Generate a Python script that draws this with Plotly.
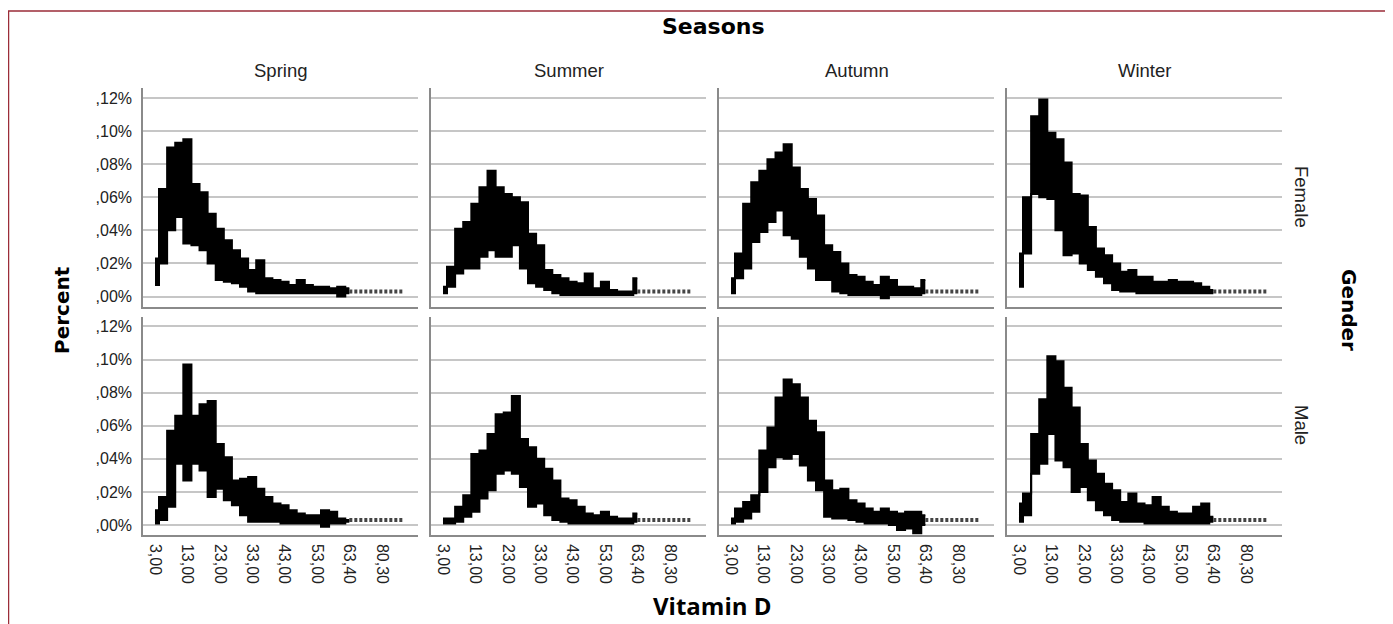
"""Vitamin D distribution by season and gender, drawn as SPSS-style panels."""

import plotly.graph_objects as go
from plotly.subplots import make_subplots

seasons = ["Spring", "Summer", "Autumn", "Winter"]
genders = ["Female", "Male"]

# x axis is categorical in the source: labelled categories sit at equal steps
tick_labels = ["3,00", "13,00", "23,00", "33,00", "43,00", "53,00", "63,40", "80,30"]
tick_pos = [0, 1, 2, 3, 4, 5, 6, 7]
y_ticks = [0.0, 0.02, 0.04, 0.06, 0.08, 0.10, 0.12]
y_tick_labels = [",00%", ",02%", ",04%", ",06%", ",08%", ",10%", ",12%"]

# category position of each band sample (in tick steps)
band_pos = [0.0, 0.25, 0.5, 0.75, 1.0, 1.25, 1.5, 1.75, 2.0, 2.25, 2.5, 2.75, 3.0,
            3.25, 3.5, 3.75, 4.0, 4.25, 4.5, 4.75, 5.0, 5.25, 5.5, 5.75, 6.0]
tail_pos = [6.0, 7.65]
tail_level = 0.003

# upper / lower envelope of the dense line, percent
spring_female_hi = [0.023, 0.065, 0.090, 0.093, 0.095, 0.068, 0.063, 0.050, 0.041, 0.034, 0.028, 0.023, 0.016,
                    0.022, 0.011, 0.010, 0.009, 0.007, 0.010, 0.007, 0.006, 0.006, 0.005, 0.006, 0.005]
spring_female_lo = [0.007, 0.020, 0.040, 0.048, 0.032, 0.031, 0.028, 0.020, 0.010, 0.009, 0.008, 0.006, 0.003,
                    0.002, 0.002, 0.002, 0.002, 0.002, 0.002, 0.002, 0.002, 0.002, 0.002, 0.000, 0.002]
summer_female_hi = [0.006, 0.018, 0.041, 0.045, 0.056, 0.066, 0.076, 0.066, 0.062, 0.060, 0.057, 0.038, 0.031,
                    0.016, 0.013, 0.011, 0.009, 0.008, 0.014, 0.005, 0.009, 0.004, 0.003, 0.003, 0.011]
summer_female_lo = [0.002, 0.006, 0.014, 0.017, 0.017, 0.024, 0.028, 0.024, 0.024, 0.031, 0.017, 0.008, 0.006,
                    0.004, 0.002, 0.001, 0.001, 0.001, 0.001, 0.001, 0.001, 0.001, 0.001, 0.001, 0.002]
autumn_female_hi = [0.011, 0.026, 0.056, 0.069, 0.076, 0.083, 0.087, 0.092, 0.078, 0.065, 0.059, 0.049, 0.031,
                    0.027, 0.020, 0.013, 0.012, 0.009, 0.007, 0.012, 0.010, 0.006, 0.006, 0.005, 0.010]
autumn_female_lo = [0.002, 0.011, 0.017, 0.033, 0.039, 0.045, 0.052, 0.037, 0.035, 0.024, 0.017, 0.010, 0.010,
                    0.003, 0.002, 0.001, 0.001, 0.001, 0.001, -0.001, 0.001, 0.001, 0.001, 0.001, 0.002]
winter_female_hi = [0.026, 0.060, 0.109, 0.119, 0.099, 0.095, 0.081, 0.062, 0.061, 0.042, 0.029, 0.025, 0.020,
                    0.015, 0.016, 0.012, 0.012, 0.009, 0.009, 0.010, 0.009, 0.009, 0.008, 0.006, 0.004]
winter_female_lo = [0.006, 0.026, 0.062, 0.060, 0.059, 0.040, 0.025, 0.026, 0.020, 0.016, 0.012, 0.008, 0.004,
                    0.003, 0.003, 0.002, 0.002, 0.002, 0.002, 0.002, 0.002, 0.002, 0.002, 0.002, 0.002]

spring_male_hi = [0.009, 0.017, 0.057, 0.066, 0.097, 0.066, 0.073, 0.075, 0.049, 0.041, 0.027, 0.028, 0.029,
                  0.022, 0.017, 0.013, 0.012, 0.009, 0.007, 0.006, 0.006, 0.009, 0.008, 0.004, 0.003]
spring_male_lo = [0.001, 0.003, 0.011, 0.037, 0.027, 0.037, 0.033, 0.017, 0.022, 0.015, 0.012, 0.006, 0.002,
                  0.002, 0.002, 0.002, 0.001, 0.001, 0.001, 0.001, 0.001, -0.001, 0.001, 0.001, 0.002]
summer_male_hi = [0.004, 0.004, 0.011, 0.018, 0.043, 0.045, 0.055, 0.067, 0.068, 0.078, 0.052, 0.047, 0.040,
                  0.034, 0.027, 0.016, 0.015, 0.011, 0.007, 0.006, 0.008, 0.005, 0.004, 0.004, 0.007]
summer_male_lo = [0.001, 0.001, 0.002, 0.005, 0.008, 0.016, 0.021, 0.031, 0.033, 0.031, 0.023, 0.011, 0.013,
                  0.006, 0.003, 0.002, 0.001, 0.001, 0.001, 0.001, 0.001, 0.001, 0.001, 0.001, 0.002]
autumn_male_hi = [0.004, 0.010, 0.014, 0.018, 0.045, 0.059, 0.077, 0.088, 0.085, 0.077, 0.063, 0.056, 0.027,
                  0.021, 0.022, 0.015, 0.013, 0.010, 0.008, 0.010, 0.008, 0.007, 0.008, 0.008, 0.006]
autumn_male_lo = [0.001, 0.002, 0.004, 0.008, 0.020, 0.035, 0.041, 0.040, 0.043, 0.036, 0.027, 0.021, 0.005,
                  0.004, 0.004, 0.003, 0.002, 0.001, 0.001, 0.001, 0.000, -0.003, -0.002, -0.005, 0.000]
winter_male_hi = [0.013, 0.019, 0.055, 0.076, 0.102, 0.099, 0.083, 0.071, 0.049, 0.039, 0.031, 0.025, 0.021,
                  0.014, 0.019, 0.013, 0.012, 0.017, 0.011, 0.008, 0.007, 0.007, 0.011, 0.013, 0.005]
winter_male_lo = [0.002, 0.006, 0.031, 0.037, 0.055, 0.039, 0.035, 0.020, 0.023, 0.015, 0.009, 0.006, 0.003,
                  0.002, 0.002, 0.002, 0.001, 0.001, 0.001, 0.001, 0.001, 0.001, 0.001, 0.001, 0.002]

bands = {
    ("Female", "Spring"): (spring_female_lo, spring_female_hi),
    ("Female", "Summer"): (summer_female_lo, summer_female_hi),
    ("Female", "Autumn"): (autumn_female_lo, autumn_female_hi),
    ("Female", "Winter"): (winter_female_lo, winter_female_hi),
    ("Male", "Spring"): (spring_male_lo, spring_male_hi),
    ("Male", "Summer"): (summer_male_lo, summer_male_hi),
    ("Male", "Autumn"): (autumn_male_lo, autumn_male_hi),
    ("Male", "Winter"): (winter_male_lo, winter_male_hi),
}

# page body adds an 8px margin, so figure pixels = screen pixels - 8
OFF = 8
W, H = 1393 - OFF, 624 - OFF
L, R, T, B = 143 - OFF, 1282 - OFF, 88 - OFF, 535 - OFF
AXIS = "#8a8a8a"
GRID = "#c6c6c6"
ARIAL = "Liberation Sans, Arial, sans-serif"
WIDE = "DejaVu Sans, Verdana, sans-serif"


def px(x):
    return (x - OFF - L) / (R - L)


def py(y):
    return (B - (y - OFF)) / (B - T)


fig = make_subplots(
    rows=2, cols=4,
    horizontal_spacing=13 / (R - L),
    vertical_spacing=10 / (B - T),
)

for r, gender in enumerate(genders, start=1):
    for c, season in enumerate(seasons, start=1):
        lo, hi = bands[(gender, season)]
        fig.add_trace(
            go.Scatter(x=band_pos, y=lo, mode="lines", line=dict(color="black", width=2, shape="hvh"),
                       showlegend=False, hoverinfo="skip"),
            row=r, col=c,
        )
        fig.add_trace(
            go.Scatter(x=band_pos, y=hi, mode="lines", line=dict(color="black", width=2, shape="hvh"),
                       fill="tonexty", fillcolor="black", showlegend=False),
            row=r, col=c,
        )
        # sparse tail of high values
        fig.add_trace(
            go.Scatter(x=tail_pos, y=[tail_level, tail_level], mode="lines",
                       line=dict(color="#444444", width=4, dash="3px,2px"), showlegend=False),
            row=r, col=c,
        )

        fig.update_xaxes(
            range=[-0.37, 8.12], showgrid=False, zeroline=False,
            showline=True, linecolor=AXIS, linewidth=1.5,
            tickmode="array", tickvals=tick_pos, ticktext=tick_labels,
            tickangle=90, ticks="", ticklabelstandoff=4,
            tickfont=dict(family=ARIAL, size=16, color="#222222"),
            showticklabels=(r == 2),
            row=r, col=c,
        )
        fig.update_yaxes(
            range=[-0.006, 0.126], zeroline=False,
            showgrid=True, gridcolor=GRID, gridwidth=1.5,
            showline=True, linecolor=AXIS, linewidth=1.5,
            tickmode="array", tickvals=y_ticks, ticktext=y_tick_labels,
            ticks="", ticklabelstandoff=6,
            tickfont=dict(family=ARIAL, size=16, color="#222222"),
            showticklabels=(c == 1),
            row=r, col=c,
        )

annotations = [
    dict(text="<b>Seasons</b>", x=px(713), y=py(27), font=dict(family=WIDE, size=22, color="black")),
    dict(text="<b>Vitamin D</b>", x=px(712), y=py(605), font=dict(family="Open Sans, sans-serif", size=24, color="black")),
    dict(text="<b>Percent</b>", x=px(62), y=py(310), textangle=-90, font=dict(family=WIDE, size=20, color="black")),
    dict(text="<b>Gender</b>", x=px(1349), y=py(310), textangle=90, font=dict(family=WIDE, size=20, color="black")),
    dict(text="Female", x=px(1302), y=py(197), textangle=90, font=dict(family=ARIAL, size=18.5, color="#222222")),
    dict(text="Male", x=px(1302), y=py(425), textangle=90, font=dict(family=ARIAL, size=18.5, color="#222222")),
]
for i, season in enumerate(seasons):
    centre = 143 + i * (275 + 13) + 137.5
    annotations.append(dict(text=season, x=px(centre), y=py(70),
                            font=dict(family=ARIAL, size=18.5, color="#222222")))
for a in annotations:
    a.update(xref="paper", yref="paper", showarrow=False, xanchor="center", yanchor="middle")

fig.update_layout(
    width=W, height=H,
    margin=dict(l=L, r=W - R, t=T, b=H - B),
    paper_bgcolor="white", plot_bgcolor="white",
    annotations=annotations,
    shapes=[dict(type="rect", xref="paper", yref="paper",
                 x0=px(8.5), x1=px(1390), y0=py(660), y1=py(11),
                 line=dict(color="#9b2d38", width=1.5))],
)

fig.write_html("out.html")
